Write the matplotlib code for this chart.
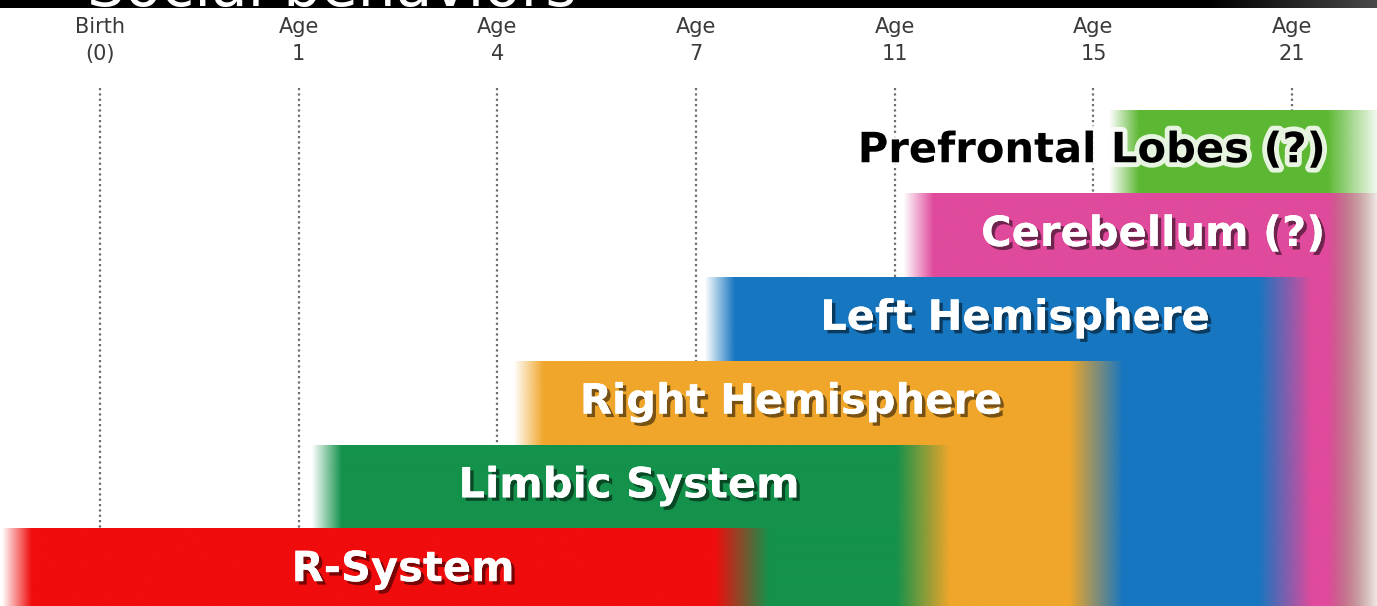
import numpy as np
import matplotlib.pyplot as plt
import matplotlib.patheffects as pe
from matplotlib.colors import to_rgb

# -----------------------------
# DATA
# -----------------------------
age_top = ["Birth", "Age", "Age", "Age", "Age", "Age", "Age"]
age_bottom = ["(0)", "1", "4", "7", "11", "15", "21"]

regions = ["Prefrontal Lobes (?)", "Cerebellum (?)", "Left Hemisphere",
           "Right Hemisphere", "Limbic System", "R-System"]
# start / end of each band on the age axis (index of the age markers)
start_pos = [5.08, 4.04, 3.04, 2.08, 1.06, -0.50]
end_pos = [6.45, 6.45, 6.10, 5.15, 4.28, 3.37]
colors = ["#5cb833", "#e04a9c", "#1776c0", "#f0a62a", "#14924c", "#f00c0c"]
label_x = [4.99, 5.30, 4.605, 3.478, 2.662, 1.525]
title = "Social behaviors"

# -----------------------------
# FIGURE
# -----------------------------
fig = plt.figure(figsize=(13.77, 6.06), dpi=100)
ax = fig.add_axes([0, 0, 1, 1])
ax.set_xlim(-0.503, 6.427)
ax.set_ylim(5.92, -1.313)
ax.axis("off")

# dotted guide lines
ticks = np.arange(len(age_top))
ax.vlines(ticks, -0.26, 5.92, colors="#6e6e6e", linewidth=1.6,
          linestyles=(0, (1, 1.4)), zorder=0.5)

for x, t, b in zip(ticks, age_top, age_bottom):
    ax.text(x, -0.99, t, ha="center", va="center", fontsize=15, color="#3a3a3a")
    ax.text(x, -0.67, b, ha="center", va="center", fontsize=15, color="#3a3a3a")

# bands: each one runs from its row down to the bottom, soft edges
n = 400
for i, (s, e, c) in enumerate(zip(start_pos, end_pos, colors)):
    xs = np.linspace(s, e, n)
    alpha = np.clip((xs - s) / 0.15, 0, 1) * np.clip((e - xs) / 0.27, 0, 1)
    img = np.zeros((1, n, 4))
    img[..., :3] = to_rgb(c)
    img[..., 3] = alpha
    ax.imshow(img, extent=(s, e, 5.92, i), aspect="auto",
              interpolation="bilinear", zorder=1 + i)

shadow = [pe.withSimplePatchShadow(offset=(2.5, -2.5), shadow_rgbFace="black", alpha=0.5),
          pe.Normal()]
glow = [pe.withStroke(linewidth=7, foreground="white", alpha=0.85)]
for i, (name, lx) in enumerate(zip(regions, label_x)):
    if i == 0:
        ax.text(lx, i + 0.48, name, ha="center", va="center", fontsize=30,
                fontweight="bold", color="black", path_effects=glow, zorder=20)
    else:
        ax.text(lx, i + 0.48, name, ha="center", va="center", fontsize=30,
                fontweight="bold", color="white", path_effects=shadow, zorder=20)

# black band with cut-off heading at the top
band = fig.add_axes([0, 1 - 8 / 606, 1, 8 / 606])
grad = np.zeros((1, 300, 3))
g = np.clip((np.linspace(0, 1, 300) - 0.88) / 0.12, 0, 1) * 0.28
grad[..., :] = g[None, :, None]
band.imshow(grad, aspect="auto", extent=(0, 1, 0, 1))
band.set_xlim(0, 1)
band.set_ylim(0, 1)
band.axis("off")
band.text(87 / 1377, 0.3, title, color="white", fontsize=43,
          ha="left", va="baseline", clip_on=True, zorder=30)

plt.savefig("out.png", dpi=100)
